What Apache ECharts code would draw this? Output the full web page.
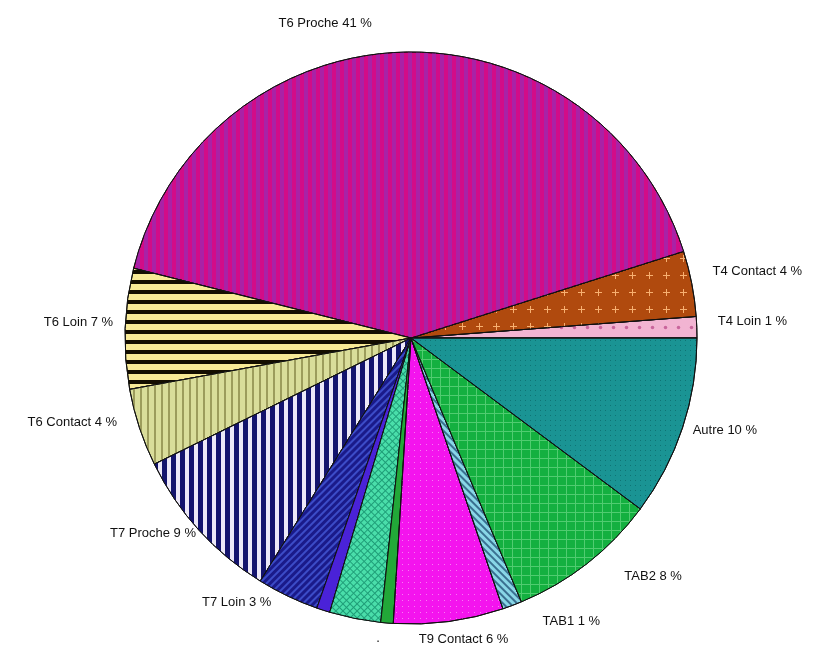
<!DOCTYPE html>
<html>
<head>
<meta charset="utf-8">
<script src="https://cdn.jsdelivr.net/npm/echarts@6/dist/echarts.min.js"></script>
<style>
    html, body { margin: 0; padding: 0; background: #fff; }
    #chart { width: 819px; height: 647px; }
</style>
</head>
<body>
<div id="chart"></div>
<script>
    // parts, counter-clockwise from 3 o'clock
    const names = ['T4 Loin', 'T4 Contact', 'T6 Proche', 'T6 Loin', 'T6 Contact', 'T7 Proche', 'T7 Loin',
        'T8 Loin', 'T8 Proche', 'T9 Loin', 'T9 Contact', 'TAB1', 'TAB2', 'Autre'];
    const shares = [1.2, 3.7, 41.2, 6.8, 4.4, 8.9, 3.5, 0.75, 2.9, 0.7, 6.2, 1.1, 8.5, 10.2];
    const labels = ['T4 Loin 1 %', 'T4 Contact 4 %', 'T6 Proche 41 %', 'T6 Loin 7 %', 'T6 Contact 4 %',
        'T7 Proche 9 %', 'T7 Loin 3 %', '', '', '.', 'T9 Contact 6 %', 'TAB1 1 %', 'TAB2 8 %', 'Autre 10 %'];

    // nudges of each label from its default spot [dx, dy]
    const labelShift = [[-4, -5], [-4, -9], [-20, -14], [13, -6], [2, -10], [18, -7], [0, -7],
        [0, 0], [0, 0], [4, 0], [-42, 3], [15, 2], [18, 1], [-14, -2]];

    const plus = 'path://M3,0H4V3H7V4H4V7H3V4H0V3H3Z';
    function flat(c) {
        return { symbol: 'rect', symbolSize: 1, dashArrayX: [1, 0], dashArrayY: [1, 0], rotation: 0, color: c };
    }
    // fills (colour + hatch)
    const fills = [
        { color: '#f2b4d2', decal: { symbol: 'circle', symbolSize: 0.7, dashArrayX: [5, 8], dashArrayY: [5, 8], rotation: 0, color: '#c9659c' } },
        { color: '#b04a0e', decal: { symbol: plus, symbolSize: 1, dashArrayX: [7, 10], dashArrayY: [7, 10], rotation: 0, color: '#f8b070' } },
        { color: '#d20c88', decal: { symbol: 'rect', symbolSize: 1, dashArrayX: [4, 4], dashArrayY: [1, 0], rotation: 0, color: '#a922a6' } },
        { color: '#f8ea96', decal: { symbol: 'rect', symbolSize: 1, dashArrayX: [1, 0], dashArrayY: [4, 6], rotation: 0, color: '#140e00' } },
        { color: '#d9dd9a', decal: { symbol: 'rect', symbolSize: 1, dashArrayX: [2, 5], dashArrayY: [1, 0], rotation: 0, color: '#9c9c5c' } },
        { color: '#ece8f8', decal: { symbol: 'rect', symbolSize: 1, dashArrayX: [5, 4], dashArrayY: [1, 0], rotation: 0, color: '#14146e' } },
        { color: '#1a1a8a', decal: { symbol: 'rect', symbolSize: 1, dashArrayX: [1, 0], dashArrayY: [1.5, 3], rotation: -Math.PI / 4, color: '#3c4cc8' } },
        { color: '#4a22d8', decal: flat('#4a22d8') },
        { color: '#1f9e78', decal: { symbol: 'rect', symbolSize: 1, dashArrayX: [4, 1], dashArrayY: [4, 1], rotation: Math.PI / 4, color: '#4adeaa' } },
        { color: '#22a838', decal: flat('#22a838') },
        { color: '#f414ee', decal: { symbol: 'rect', symbolSize: 1, dashArrayX: [1, 5], dashArrayY: [1, 5], rotation: 0, color: '#f87af4' } },
        { color: '#88d6e6', decal: { symbol: 'rect', symbolSize: 1, dashArrayX: [1, 0], dashArrayY: [1.5, 3], rotation: Math.PI / 4, color: '#3a7090' } },
        { color: '#50cc70', decal: { symbol: 'rect', symbolSize: 1, dashArrayX: [8, 1], dashArrayY: [8, 1], rotation: 0, color: '#14b040' } },
        { color: '#1a9494', decal: { symbol: 'rect', symbolSize: 1, dashArrayX: [1, 4], dashArrayY: [1, 4], rotation: 0, color: '#0f7474' } }
    ];

    let myChart = echarts.init(document.getElementById('chart'));
    let option = {
        backgroundColor: '#fff',
        aria: { enabled: true, decal: { show: true } },
        animation: false,
        series: [
            {
                type: 'pie',
                center: [411, 338],
                radius: 286,
                startAngle: 0,
                clockwise: false,
                avoidLabelOverlap: false,
                itemStyle: {
                    borderColor: '#111',
                    borderWidth: 1
                },
                label: {
                    show: true,
                    position: 'outside',
                    color: '#111',
                    fontFamily: 'Liberation Sans, Arial, sans-serif',
                    fontSize: 13,
                    distanceToLabelLine: 0,
                    formatter: function (p) { return labels[p.dataIndex]; }
                },
                labelLine: { show: false, length: 15, length2: 10 },
                labelLayout: function (p) {
                    const s = labelShift[p.dataIndex];
                    return { dx: s[0], dy: s[1] };
                },
                data: names.map(function (n, i) {
                    return {
                        name: n,
                        value: shares[i],
                        itemStyle: { color: fills[i].color, decal: fills[i].decal }
                    };
                })
            }
        ]
    };
    myChart.setOption(option);
</script>
</body>
</html>
